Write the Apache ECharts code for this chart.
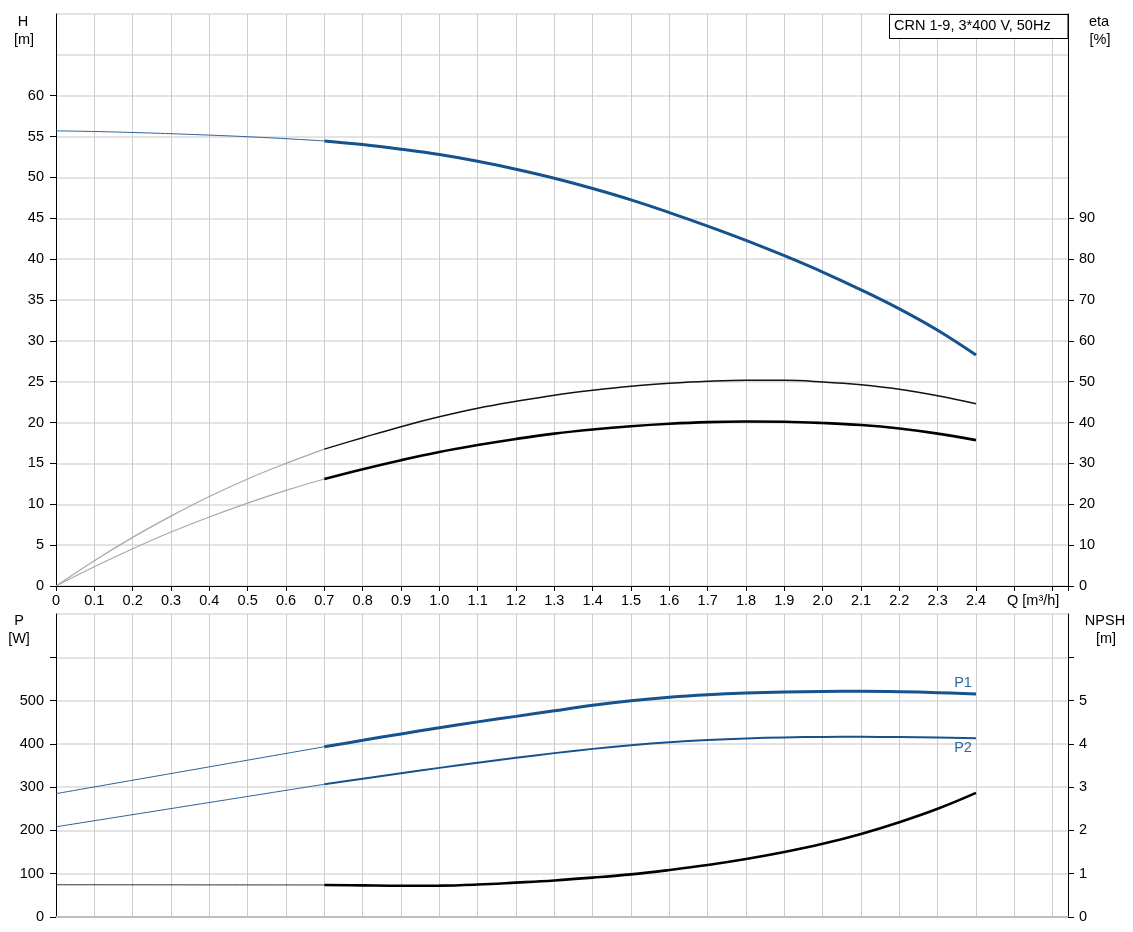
<!DOCTYPE html>
<html><head><meta charset="utf-8">
<script src="https://cdn.jsdelivr.net/npm/echarts@6/dist/echarts.min.js"></script>
<style>html,body{margin:0;padding:0;background:#fff}#c{width:1133px;height:932px}</style>
</head><body><div id="c"></div>
<script>
// ---- data ----
const qExt  = [0, 0.1, 0.2, 0.3, 0.4, 0.5, 0.6, 0.7];
const qMain = [0.7, 0.8, 0.9, 1.0, 1.1, 1.2, 1.3, 1.4, 1.5, 1.6, 1.7, 1.8, 1.9, 2.0, 2.1, 2.2, 2.3, 2.4];
const qLine = [0, 0.7];

const hExt  = [55.7, 55.62, 55.5, 55.35, 55.18, 54.98, 54.74, 54.47];
const hMain = [54.47, 54.02, 53.45, 52.8, 51.98, 51.0, 49.9, 48.64, 47.25, 45.7, 44.05, 42.3, 40.42, 38.42, 36.25, 33.92, 31.3, 28.27];

const eta1Ext  = [0, 6.2, 11.9, 17.1, 21.9, 26.2, 30.0, 33.5];
const eta1Main = [33.5, 36.3, 39.0, 41.4, 43.5, 45.2, 46.7, 47.9, 48.9, 49.6, 50.1, 50.35, 50.35, 49.95, 49.25, 48.15, 46.55, 44.6];
const eta2Ext  = [0, 4.7, 9.1, 13.2, 16.9, 20.3, 23.4, 26.2];
const eta2Main = [26.2, 28.6, 30.8, 32.8, 34.5, 36.0, 37.3, 38.3, 39.1, 39.7, 40.1, 40.25, 40.2, 39.9, 39.4, 38.55, 37.3, 35.7];

const p1Ext  = [285, 393.3];
const p1Main = [393.3, 408.2, 423.0, 437.3, 450.8, 463.5, 476.5, 489.0, 499.5, 507.5, 513.3, 517.3, 519.8, 521.0, 521.4, 520.5, 518.3, 515.3];
const p2Ext  = [208.4, 306.6];
const p2Main = [306.6, 319.5, 332.2, 344.5, 356.4, 367.8, 378.6, 388.4, 396.8, 403.7, 408.9, 412.6, 414.9, 416.0, 416.2, 415.7, 414.6, 413.1];
const npshExt  = [0.745, 0.74];
const npshMain = [0.741, 0.73, 0.722, 0.725, 0.75, 0.795, 0.845, 0.91, 0.985, 1.085, 1.2, 1.338, 1.5, 1.69, 1.92, 2.19, 2.5, 2.867];

// tick labels
const hTicks    = [0, 5, 10, 15, 20, 25, 30, 35, 40, 45, 50, 55, 60];
const etaTicks  = [0, 10, 20, 30, 40, 50, 60, 70, 80, 90];
const pTicks    = [0, 100, 200, 300, 400, 500, 600];
const pLabels   = [0, 100, 200, 300, 400, 500];
const npshTicks = [0, 1, 2, 3, 4, 5, 6];
const npshLabels= [0, 1, 2, 3, 4, 5];
const qAxisTitle = 'Q [m³/h]';
const titleText = 'CRN 1-9, 3*400 V, 50Hz';

// ---- chart ----
const FONT = '"Liberation Sans", Arial, sans-serif';
const FS = 14.5;
const BLUE = '#15528e';
const chart = echarts.init(document.getElementById('c'), null, {renderer: 'canvas'});

function pairs(xs, ys) { return xs.map((x, i) => [x, ys[i]]); }
function line(xs, ys, xi, yi, color, width, z) {
  return {
    type: 'line', xAxisIndex: xi, yAxisIndex: yi, data: pairs(xs, ys),
    symbol: 'none', showSymbol: false, smooth: 0.4, silent: true,
    lineStyle: {color: color, width: width}, z: z || 3, animation: false
  };
}

const xLabelFmt = function (v) {
  const r = Math.round(v * 100) / 100;
  if (r > 2.45) return '';
  return r === 0 ? '0' : r.toFixed(1);
};

const vGrid = {show: true, lineStyle: {color: '#cdcdcd', width: 1}};
const hGrid = {show: true, lineStyle: {color: '#e3e3e3', width: 2}};
const blackLine = {show: true, lineStyle: {color: '#000', width: 1}};
const labelStyle = {color: '#000', fontSize: FS, fontFamily: FONT};

function txt(x, y, text, align, color) {
  return {type: 'text', x: x, y: y, z: 100, silent: true,
    style: {text: text, font: FS + 'px ' + FONT, fill: color || '#000',
      align: align || 'center', verticalAlign: 'middle',
      textAlign: align || 'center', textVerticalAlign: 'middle'}};
}

const option = {
  animation: false,
  backgroundColor: '#fff',
  grid: [
    {left: 56, right: 65, top: 14, height: 572, outerBoundsMode: 'none'},
    {left: 56, right: 65, top: 614, height: 303, outerBoundsMode: 'none'}
  ],
  xAxis: [
    {type: 'value', gridIndex: 0, min: 0, max: 2.64, interval: 0.1, position: 'bottom',
      axisLine: {show: true, onZero: false, lineStyle: {color: '#000', width: 1}},
      axisTick: {show: true, length: 5, lineStyle: {color: '#000'}},
      axisLabel: Object.assign({show: true, interval: 0, margin: 7, formatter: xLabelFmt}, labelStyle),
      splitLine: vGrid},
    {type: 'value', gridIndex: 1, min: 0, max: 2.64, interval: 0.1, position: 'bottom',
      axisLine: {show: true, onZero: false, lineStyle: {color: '#bdbdbd', width: 2}},
      axisTick: {show: false}, axisLabel: {show: false},
      splitLine: vGrid}
  ],
  yAxis: [
    // 0: H
    {type: 'value', gridIndex: 0, position: 'left', min: 0, max: 70, interval: 5,
      axisLine: blackLine,
      axisTick: {show: true, length: 6, lineStyle: {color: '#000'}, customValues: hTicks},
      axisLabel: Object.assign({margin: 12, customValues: hTicks}, labelStyle),
      splitLine: {show: false}},
    // 1: eta
    {type: 'value', gridIndex: 0, position: 'right', min: 0, max: 140, interval: 10,
      axisLine: blackLine,
      axisTick: {show: true, length: 6, lineStyle: {color: '#000'}, customValues: etaTicks},
      axisLabel: Object.assign({margin: 11, customValues: etaTicks}, labelStyle),
      splitLine: {show: false}},
    // 2: P
    {type: 'value', gridIndex: 1, position: 'left', min: 0, max: 700, interval: 100,
      axisLine: blackLine,
      axisTick: {show: true, length: 6, lineStyle: {color: '#000'}, customValues: pTicks},
      axisLabel: Object.assign({margin: 12, customValues: pLabels}, labelStyle),
      splitLine: {show: false}},
    // 3: NPSH
    {type: 'value', gridIndex: 1, position: 'right', min: 0, max: 7, interval: 1,
      axisLine: blackLine,
      axisTick: {show: true, length: 6, lineStyle: {color: '#000'}, customValues: npshTicks},
      axisLabel: Object.assign({margin: 11, customValues: npshLabels}, labelStyle),
      splitLine: {show: false}},
    // 4: horizontal grid lines (top)
    {type: 'value', gridIndex: 0, position: 'left', min: 0, max: 70, interval: 5,
      axisLine: {show: false}, axisTick: {show: false}, axisLabel: {show: false}, splitLine: hGrid, z: 0},
    // 5: horizontal grid lines (bottom)
    {type: 'value', gridIndex: 1, position: 'left', min: 0, max: 700, interval: 100,
      axisLine: {show: false}, axisTick: {show: false}, axisLabel: {show: false}, splitLine: hGrid, z: 0}
  ],
  series: [
    line(qExt, hExt, 0, 0, '#2d629b', 1),
    line(qMain, hMain, 0, 0, BLUE, 3, 4),
    line(qExt, eta1Ext, 0, 1, '#a8a8a8', 1.2),
    line(qMain, eta1Main, 0, 1, '#111', 1.5, 4),
    line(qExt, eta2Ext, 0, 1, '#a8a8a8', 1.2),
    line(qMain, eta2Main, 0, 1, '#000', 2.6, 4),
    line(qLine, p1Ext, 1, 2, '#2d629b', 1),
    line(qMain, p1Main, 1, 2, BLUE, 3, 4),
    line(qLine, p2Ext, 1, 2, '#2d629b', 1),
    line(qMain, p2Main, 1, 2, BLUE, 2, 4),
    line(qLine, npshExt, 1, 3, '#333', 1),
    line(qMain, npshMain, 1, 3, '#000', 2.6, 4)
  ],
  graphic: [
    {type: 'rect', z: 99, silent: true, shape: {x: 889.5, y: 14.5, width: 178.5, height: 24},
      style: {fill: '#fff', stroke: '#000', lineWidth: 1}},
    txt(894, 26, titleText, 'left'),
    txt(23, 22, 'H'), txt(24, 40, '[m]'),
    txt(1099, 22, 'eta'), txt(1100, 40, '[%]'),
    txt(19, 621, 'P'), txt(19, 639, '[W]'),
    txt(1105, 621, 'NPSH'), txt(1106, 639, '[m]'),
    txt(1007, 601, qAxisTitle, 'left'),
    txt(963, 683, 'P1', 'center', '#2f67a0'),
    txt(963, 748, 'P2', 'center', '#2f67a0')
  ]
};
chart.setOption(option);
</script>
</body></html>
